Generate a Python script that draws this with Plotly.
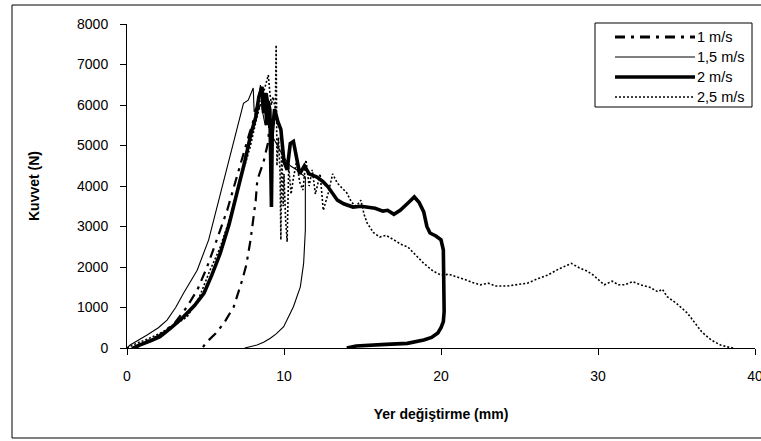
import plotly.graph_objects as go

# Force-displacement curves (displacement in mm, force in N) for four impact speeds
x_1 = [0.3, 1.0, 2.0, 3.0, 3.83, 4.5, 5.1, 5.7, 6.38, 6.9, 7.4, 7.8, 8.2, 8.6, 8.9, 9.1,
       9.0, 8.7, 8.3, 8.2, 8.04, 7.87, 7.6, 7.34, 6.8, 6.17, 5.64, 5.0, 4.8]
y_1 = [0, 120, 300, 600, 1020, 1450, 2000, 2650, 3400, 4100, 4800, 5300, 5800, 6100, 6300, 5800,
       5100, 4600, 4150, 3650, 3160, 2670, 2050, 1680, 1020, 610, 360, 115, 0]

x_15 = [0, 0.2, 1.28, 2.0, 2.55, 3.1, 3.6, 4.47, 5.2, 5.74, 6.38, 6.57, 7.0, 7.42, 7.72, 7.96,
        8.04, 8.1, 8.3, 8.5, 8.6, 8.8, 9.0, 9.3, 9.6, 10.0, 10.4, 10.8, 11.1, 11.36,
        11.36, 11.25, 11.04, 10.6, 9.98, 9.5, 9.13, 8.7, 8.28, 7.85, 7.5]
y_15 = [0, 74, 320, 500, 690, 1000, 1350, 1920, 2670, 3490, 4480, 4720, 5380, 6040, 6120, 6370,
        6420, 5830, 6000, 6490, 5900, 5500, 5700, 5200, 5000, 4700, 4500, 4400, 4300, 4220,
        2910, 2090, 1510, 1020, 526, 350, 240, 140, 74, 32, 0]

x_2 = [0.5, 0.8, 1.5, 2.1, 2.8, 3.6, 4.3, 4.9, 5.4, 5.94, 6.5, 7.0, 7.5, 7.9, 8.2, 8.4, 8.6,
       8.7, 8.8, 8.9, 9.0, 9.1, 9.2, 9.25, 9.4, 9.6, 9.8, 10.0, 10.2, 10.4, 10.6, 10.8, 11.0,
       11.3, 11.6, 12.1, 12.5, 12.8, 13.1, 13.4, 13.8, 14.4, 14.9, 15.3, 15.8, 16.3, 16.6,
       17.0, 17.4, 17.9, 18.3, 18.6, 18.9, 19.1, 19.3, 19.7, 20.0, 20.15, 20.2, 20.2, 20.15,
       20.0, 19.8, 19.4, 18.9, 18.3, 17.85, 16.5, 15.3, 14.6, 14.0]
y_2 = [0, 74, 180, 280, 500, 770, 1050, 1350, 1800, 2340, 3050, 3820, 4600, 5300, 5700, 6200, 6450,
       5800, 6300, 5500, 6100, 5880, 3480, 5300, 5900, 5600, 5400, 4600, 4400, 5050, 5100, 4700, 4300,
       4500, 4300, 4220, 4100, 3980, 3800, 3650, 3560, 3480, 3500, 3480, 3450, 3380, 3400,
       3300, 3400, 3580, 3730, 3600, 3360, 3000, 2840, 2760, 2670, 2420, 1600, 900, 650,
       500, 370, 260, 200, 150, 115, 90, 74, 50, 0]

x_25 = [0, 0.64, 1.3, 2.1, 3.0, 3.83, 4.6, 5.3, 5.9, 6.38, 6.9, 7.44, 7.85, 8.28,
        8.6, 8.8, 9.0, 9.1, 9.2, 9.3, 9.45, 9.5, 9.55, 9.65, 9.75, 9.8, 9.85, 9.95, 10.0, 10.1,
        10.2, 10.3, 10.45, 10.6, 10.8, 11.0, 11.2, 11.4, 11.6, 11.8, 12.0, 12.3, 12.5, 12.8,
        13.1, 13.4, 13.7, 14.0, 14.3, 14.6, 14.9, 15.1, 15.3, 15.7, 16.1, 16.5, 17.0, 17.45,
        17.9, 18.5, 18.9, 19.5, 20.0, 20.5, 21.0, 21.6, 22.0, 22.5, 23.0, 23.5, 24.2, 24.8,
        25.5, 26.1, 26.8, 27.5, 28.3, 28.8, 29.3, 29.7, 30.1, 30.4, 30.9, 31.3, 31.7, 32.2,
        32.7, 33.3, 33.8, 34.1, 34.4, 35.0, 35.7, 36.2, 36.6, 37.2, 37.8, 38.2, 38.6]
y_25 = [0, 120, 220, 360, 560, 770, 1250, 1930, 2450, 3000, 3700, 4400, 4970, 5710,
        6200, 6500, 6740, 6300, 6000, 6200, 5900, 7480, 4500, 5200, 4300, 2670, 5000, 3500, 4300, 3200,
        2620, 4500, 3800, 4200, 4600, 4100, 3900, 4640, 4000, 4400, 3800, 4300, 3400, 3800,
        4300, 4070, 3950, 3830, 3600, 3500, 3650, 3300, 3080, 2850, 2740, 2780, 2670, 2560,
        2490, 2250, 2090, 1900, 1800, 1820, 1760, 1680, 1620, 1560, 1600, 1530, 1530, 1560,
        1600, 1700, 1800, 1950, 2090, 1980, 1900, 1800, 1650, 1560, 1650, 1560, 1560, 1640,
        1560, 1500, 1390, 1450, 1270, 1100, 860, 620, 400, 200, 74, 30, 0]

series_names = ["1 m/s", "1,5 m/s", "2 m/s", "2,5 m/s"]
x_ticks = [0, 10, 20, 30, 40]
y_ticks = [0, 1000, 2000, 3000, 4000, 5000, 6000, 7000, 8000]

FONT = "Liberation Sans, Arial, sans-serif"

styles = {
    "1 m/s": dict(width=2.2, dash="10px,6px,3px,6px"),
    "1,5 m/s": dict(width=1.1, dash="solid"),
    "2 m/s": dict(width=3.6, dash="solid"),
    "2,5 m/s": dict(width=1.6, dash="2px,2px"),
}

fig = go.Figure()
for name, xs, ys in [("2,5 m/s", x_25, y_25), ("2 m/s", x_2, y_2),
                     ("1,5 m/s", x_15, y_15), ("1 m/s", x_1, y_1)]:
    fig.add_trace(go.Scatter(x=xs, y=ys, mode="lines", name=name, showlegend=False,
                             line=dict(color="black", **styles[name])))

# plot-area geometry in pixels, used to place the legend box and outer frame
W, H = 761, 441
L, R, T, B = 127, 6, 24, 93
pw, ph = W - L - R, H - T - B


def px(xpix):
    return (xpix - L) / pw


def py(ypix):
    return (H - B - ypix) / ph


frame = dict(color="black", width=1)
shapes = [
    # outer chart frame: left, top and bottom edges, running out to the page edge
    dict(type="line", xref="paper", yref="paper", x0=px(12), x1=px(12), y0=py(438), y1=py(5),
         line=frame, layer="below"),
    dict(type="line", xref="paper", yref="paper", x0=px(12), x1=px(761), y0=py(5), y1=py(5),
         line=frame, layer="below"),
    dict(type="line", xref="paper", yref="paper", x0=px(12), x1=px(761), y0=py(438), y1=py(438),
         line=frame, layer="below"),
    # legend frame
    dict(type="rect", xref="paper", yref="paper", x0=px(595), x1=px(752), y0=py(107), y1=py(23),
         line=frame, fillcolor="white", layer="above"),
]
annotations = []
row_y = [37, 57, 77, 97]
for name, ry in zip(series_names, row_y):
    st = styles[name]
    shapes.append(dict(type="line", xref="paper", yref="paper", x0=px(615), x1=px(695),
                       y0=py(ry), y1=py(ry),
                       line=dict(color="black", width=st["width"] + (0.6 if name == "1 m/s" else 0),
                                 dash=st["dash"]), layer="above"))
    annotations.append(dict(xref="paper", yref="paper", x=px(695), y=py(ry), text=name,
                            showarrow=False, xanchor="left", yanchor="middle",
                            font=dict(family=FONT, size=14.5, color="black")))

fig.update_layout(
    width=W, height=H,
    margin=dict(l=L, r=R, t=T, b=B, autoexpand=False),
    paper_bgcolor="white", plot_bgcolor="white",
    shapes=shapes, annotations=annotations,
    font=dict(family=FONT, size=14, color="black"),
)
fig.update_xaxes(
    range=[0, 40], tickvals=x_ticks, ticks="outside", ticklen=6, tickcolor="black",
    showline=True, linecolor="black", linewidth=1, showgrid=False, zeroline=False,
    title=dict(text="<b>Yer değiştirme (mm)</b>", font=dict(family=FONT, size=14), standoff=26),
    tickfont=dict(family=FONT, size=14), ticklabelstandoff=9, ticklabeloverflow="allow",
    automargin=False,
)
fig.update_yaxes(
    range=[0, 8000], tickvals=y_ticks, ticks="outside", ticklen=6, tickcolor="black",
    showline=True, linecolor="black", linewidth=1, showgrid=False, zeroline=False,
    title=dict(text="<b>Kuvvet (N)</b>", font=dict(family=FONT, size=14), standoff=34),
    tickfont=dict(family=FONT, size=14), ticklabelstandoff=9, automargin=False,
)

fig.write_html("out.html")
